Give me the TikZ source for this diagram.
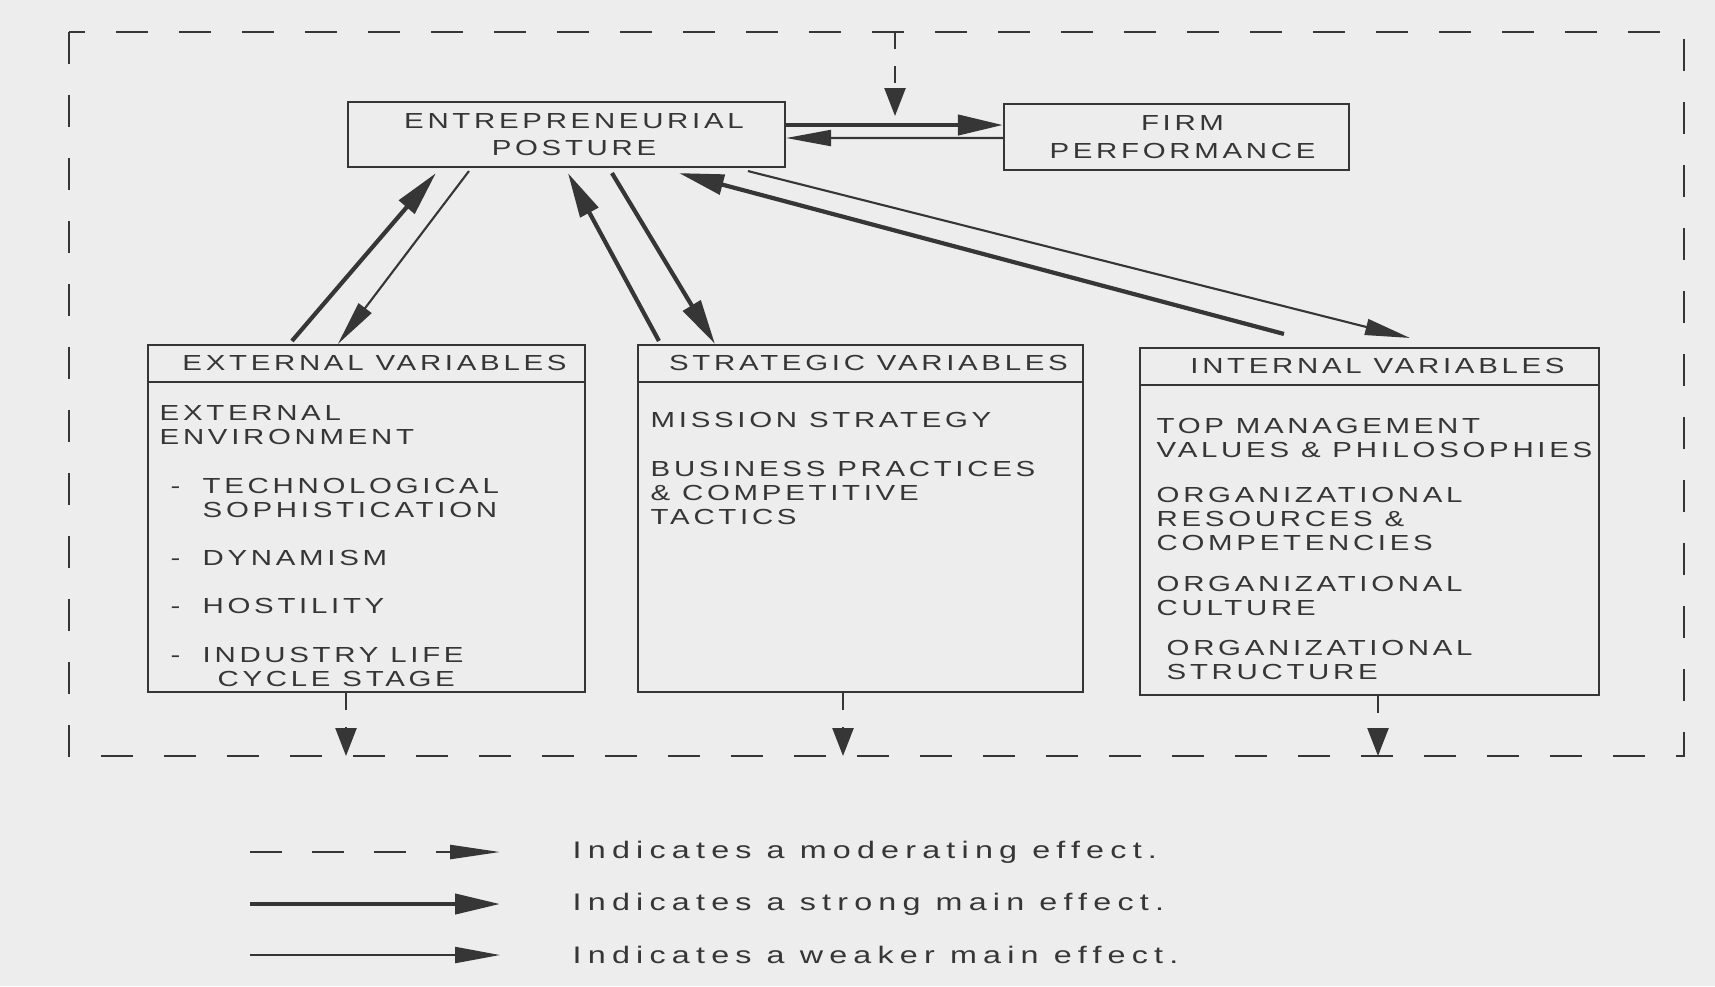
\documentclass[tikz,border=0pt]{standalone}
\usepackage{fontspec}
\setmainfont{Liberation Sans}[FakeStretch=1.35,LetterSpace=17]
\newfontfamily\legfont{Liberation Sans}[FakeStretch=1.35,LetterSpace=26]
\usetikzlibrary{arrows.meta,positioning,calc}
\definecolor{ink}{HTML}{363636}
\definecolor{paper}{HTML}{EDEDED}

\begin{document}
\begin{tikzpicture}[x=1cm,y=-1cm,font=\fontsize{6.2}{6.8}\selectfont,
  box/.style={draw=ink,line width=0.6pt,inner sep=0pt,text=ink},
  hdr/.style={text=ink,inner sep=0pt},
  txt/.style={text=ink,inner sep=0pt,align=left,anchor=base west},
  frame/.style={draw=ink,line width=0.7pt,dash pattern=on 0.32cm off 0.31cm},
  moder/.style={draw=ink,line width=0.7pt,dash pattern=on 0.17cm off 0.17cm,
    -{Triangle[length=0.28cm,width=0.21cm]}},
  legmod/.style={draw=ink,line width=0.7pt,dash pattern=on 0.32cm off 0.3cm,
    -{Triangle[length=0.5cm,width=0.14cm]}},
  strong/.style={draw=ink,line width=1.2pt,-{Triangle[length=0.45cm,width=0.2cm]}},
  weak/.style={draw=ink,line width=0.6pt,-{Triangle[length=0.45cm,width=0.16cm]}}]
  \fill[paper] (0,0) rectangle (17.15,9.86);
  \useasboundingbox (0,0) rectangle (17.15,9.86);

  % outer frame (moderating context)
  \draw[frame] (0.69,0.32) rectangle (16.84,7.56);

  \node[box,minimum width=4.37cm,minimum height=0.65cm,align=center] (ep) at (5.665,1.345)
    {\hspace*{0.15cm}ENTREPRENEURIAL\\[1pt]\hspace*{0.15cm}POSTURE};
  \node[box,minimum width=3.45cm,minimum height=0.66cm,align=center] (fp) at (11.765,1.37)
    {\hspace*{0.12cm}FIRM\\[1pt]\hspace*{0.12cm}PERFORMANCE};

  \node[box,minimum width=4.37cm,minimum height=3.47cm] (ext) at (3.665,5.185) {};
  \node[box,minimum width=4.45cm,minimum height=3.47cm] (str) at (8.605,5.185) {};
  \node[box,minimum width=4.59cm,minimum height=3.47cm] (int) at (13.695,5.215) {};

  \foreach \b/\t in {ext/EXTERNAL VARIABLES,str/STRATEGIC VARIABLES,int/INTERNAL VARIABLES}{
    \draw[draw=ink,line width=0.6pt] ($(\b.north west)+(0,0.38)$) -- ($(\b.north east)+(0,0.38)$);
    \node[hdr] (\b-hd) at ($(\b.north)+(0.08,0.19)$) {\t};
  }

  % box contents (base = last line)
  \node[txt] (ext-env) at (1.59,4.44) {EXTERNAL\\ENVIRONMENT};
  \node[txt] (ext-tec) at (1.70,5.17) {\makebox[0.32cm][l]{-}TECHNOLOGICAL\\\hspace*{0.32cm}SOPHISTICATION};
  \node[txt] (ext-dyn) at (1.70,5.65) {\makebox[0.32cm][l]{-}DYNAMISM};
  \node[txt] (ext-hos) at (1.70,6.13) {\makebox[0.32cm][l]{-}HOSTILITY};
  \node[txt] (ext-ind) at (1.70,6.86) {\makebox[0.32cm][l]{-}INDUSTRY LIFE\\\hspace*{0.47cm}CYCLE STAGE};

  \node[txt] (str-mis) at (6.50,4.27) {MISSION STRATEGY};
  \node[txt] (str-bus) at (6.50,5.24) {BUSINESS PRACTICES\\\& COMPETITIVE\\TACTICS};

  \node[txt] (int-top) at (11.56,4.57) {TOP MANAGEMENT\\VALUES \& PHILOSOPHIES};
  \node[txt] (int-res) at (11.56,5.50) {ORGANIZATIONAL\\RESOURCES \&\\COMPETENCIES};
  \node[txt] (int-cul) at (11.56,6.15) {ORGANIZATIONAL\\CULTURE};
  \node[txt] (int-stc) at (11.66,6.79) {ORGANIZATIONAL\\STRUCTURE};

  % posture <-> performance
  \draw[strong] ($(ep.east)+(0,-0.095)$) -- ($(fp.west)+(0,-0.12)$);
  \draw[weak] ($(fp.west)+(0,0.01)$) -- ($(ep.east)+(0,0.035)$);
  \coordinate (modtop) at (8.95,0.32);
  \coordinate (modtip) at (8.95,1.16);
  \draw[moder] (modtop) -- (modtip);

  % variables <-> posture
  \draw[strong] ($(ext.north west)+(1.45,-0.03)$) -- ($(ep.south west)+(0.89,0.05)$);
  \draw[weak] ($(ep.south west)+(1.22,0.03)$) -- ($(ext.north west)+(1.91,0)$);
  \draw[strong] ($(str.north west)+(0.22,-0.03)$) -- ($(ep.south west)+(2.21,0.05)$);
  \draw[strong] ($(ep.south west)+(2.65,0.05)$) -- ($(str.north west)+(0.78,0)$);
  \draw[strong] ($(int.north west)+(1.45,-0.13)$) -- ($(ep.south west)+(3.32,0.05)$);
  \draw[weak] ($(ep.south west)+(4.01,0.03)$) -- ($(int.north west)+(2.71,-0.09)$);

  % moderating effects onto the frame
  \foreach \b/\x in {ext/3.46,str/8.43,int/13.78}{
    \coordinate (\b-m) at (\x,7.56);
    \draw[moder] (\b.south -| \b-m) -- (\b-m);
  }

  % legend
  \foreach \n/\y/\s/\t in {1/8.52/legmod/a moderating effect.,2/9.04/strong/a strong main effect.,3/9.55/weak/a weaker main effect.}{
    \node[hdr,anchor=west,font=\legfont\fontsize{6.8}{7.2}\selectfont] (leg\n) at (5.72,\y) {Indicates \t};
    \coordinate (leg\n-s) at (2.50,\y);
    \draw[\s] (leg\n-s) -- ($(leg\n.west)+(-0.72,0)$);
  }
\end{tikzpicture}
\end{document}
